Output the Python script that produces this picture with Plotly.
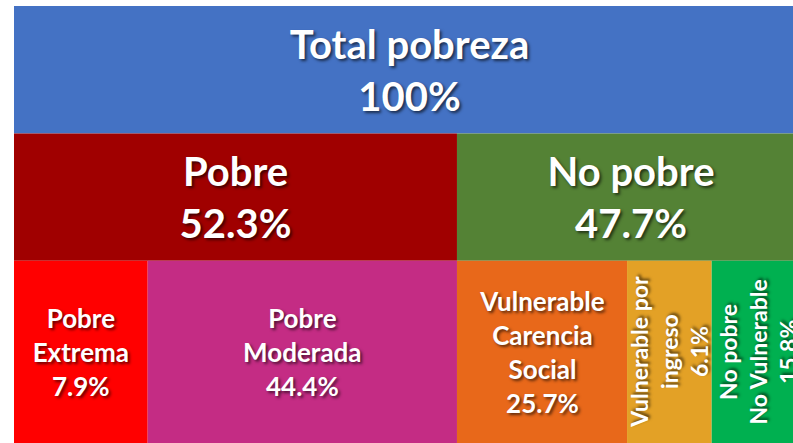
import plotly.graph_objects as go

# ---- data ----
top_labels = ["Total pobreza"]
top_pct = [100]

mid_labels = ["Pobre", "No pobre"]
mid_pct = [52.3, 47.7]

bot_labels = ["Pobre<br>Extrema", "Pobre<br>Moderada", "Vulnerable<br>Carencia<br>Social",
              "Vulnerable por<br>ingreso", "No pobre<br>No Vulnerable"]
bot_pct = [7.9, 44.4, 25.7, 6.1, 15.8]

# drawn box spans (the boxes in the original are not drawn to scale)
top_span = [100.0]
mid_span = [56.0, 44.0]
bot_span = [16.9, 39.1, 21.5, 10.7, 11.8]

# ---- styles ----
top_colors = ["#4472C4"]
mid_colors = ["#A00000", "#548235"]
bot_colors = ["#FF0000", "#C42C84", "#E8681A", "#E3A126", "#00B050"]
bot_angles = [0, 0, 0, -90, -90]
bot_sizes = [26, 26, 26, 23, 23]

row_centers = [0.5, 1.5, 2.715]
row_heights = [1.0, 1.0, 1.43]

shadow = "2px 2px 3px rgba(0,0,0,0.6)"


def fmt(v):
    return f"{v:g}%"


fig = go.Figure()


def add_row(labels, spans, pcts, colors, row, sizes, angles):
    start = 0.0
    for lab, w, p, c, s, a in zip(labels, spans, pcts, colors, sizes, angles):
        fig.add_trace(go.Bar(
            orientation="h",
            y=[row_centers[row]],
            x=[w],
            base=[start],
            width=[row_heights[row]],
            marker=dict(color=c, line=dict(width=0)),
            text=[f"{lab}<br>{fmt(p)}"],
            textposition="inside",
            insidetextanchor="middle",
            textangle=a,
            constraintext="none",
            cliponaxis=True,
            textfont=dict(family="Lato", size=s, color="white", weight="bold", shadow=shadow),
            hoverinfo="skip",
            showlegend=False,
        ))
        start += w


add_row(top_labels, top_span, top_pct, top_colors, 0, [40], [0])
add_row(mid_labels, mid_span, mid_pct, mid_colors, 1, [40, 40], [0, 0])
add_row(bot_labels, bot_span, bot_pct, bot_colors, 2, bot_sizes, bot_angles)

fig.update_layout(
    width=793,
    height=443,
    margin=dict(l=14, r=0, t=6, b=0),
    paper_bgcolor="white",
    plot_bgcolor="white",
    barmode="overlay",
    xaxis=dict(range=[0, 98.48], visible=False, fixedrange=True),
    yaxis=dict(range=[3.43, 0], visible=False, fixedrange=True),
)

fig.write_html("out.html", config={"displayModeBar": False},
               post_script="document.body.style.margin='0';")
